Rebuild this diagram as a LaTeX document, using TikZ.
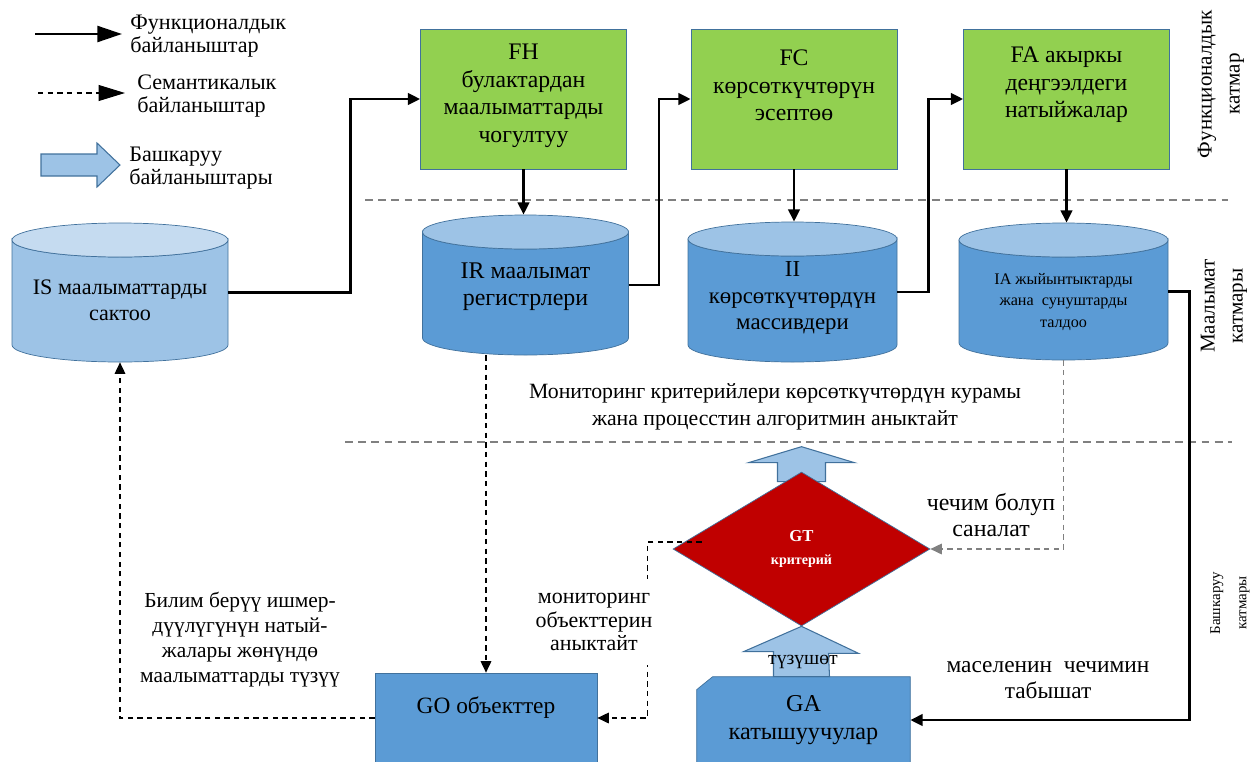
\documentclass[tikz,border=0pt]{standalone}
\usepackage{fontspec}
\setmainfont{Liberation Serif}
\usepackage{tikz}
\usetikzlibrary{arrows.meta,shapes.geometric,backgrounds}
\definecolor{fgreen}{HTML}{92D050}
\definecolor{midblue}{HTML}{5B9BD5}
\definecolor{paleblue}{HTML}{9DC3E6}
\definecolor{palelid}{HTML}{C5DBF0}
\definecolor{edgeblue}{HTML}{41719C}
\definecolor{gtred}{HTML}{C00000}
\tikzstyle{fbox}=[draw=edgeblue, fill=fgreen, minimum width=4.12cm, minimum height=2.8cm, inner sep=0pt]
\tikzstyle{gbox}=[draw=edgeblue, fill=midblue, inner sep=0pt]
\tikzstyle{txt}=[align=center, inner sep=0pt, font=\fontsize{12.5}{15}\selectfont]
\tikzstyle{func}=[draw, line width=1.5pt, -{Triangle[length=7pt,width=6.5pt]}]
\tikzstyle{sem}=[draw, line width=0.8pt, dash pattern=on 3pt off 2.5pt, -{Triangle[length=6.5pt,width=6pt]}]
\tikzstyle{barrow}=[draw=edgeblue, fill=paleblue, line width=0.6pt]
\tikzstyle{layer}=[align=center, rotate=90, inner sep=0pt, font=\fontsize{12}{16}\selectfont]
\tikzstyle{sepline}=[draw=gray, line width=1pt, dash pattern=on 4.5pt off 3pt]
\newcommand{\dbcyl}[6]{%
  \path[draw=edgeblue, fill=#5] (#1-#4,#2+17) -- (#1-#4,#3-17)
    arc[start angle=180, end angle=0, x radius=#4, y radius=17] -- (#1+#4,#2+17)
    arc[start angle=0, end angle=180, x radius=#4, y radius=17] -- cycle;
  \path[draw=edgeblue, fill=#6] (#1,#2+17) ellipse[x radius=#4, y radius=17];
}
\begin{document}
\begin{tikzpicture}[x=0.02cm, y=-0.02cm]
    \useasboundingbox (0,0) rectangle (1250,761);
    \coordinate (lf) at (35,34);
    \coordinate (ls) at (38,93);
    \node[txt, anchor=west, align=left, font=\fontsize{12.6}{13.2}\selectfont] (legf) at (130,36.5) {Функционалдык\\байланыштар};
    \node[txt, anchor=west, align=left, font=\fontsize{12.6}{13.2}\selectfont] (legs) at (137,96) {Семантикалык\\байланыштар};
    \node[txt, anchor=west, align=left, font=\fontsize{12.6}{13.2}\selectfont] (legc) at (129,168.5) {Башкаруу\\байланыштары};
    \draw[line width=1.6pt, -{Triangle[length=14pt,width=9pt]}] (lf) -- ++(87,0);
    \draw[line width=0.8pt, dash pattern=on 3pt off 2.5pt, -{Triangle[length=15pt,width=9pt]}] (ls) -- ++(87,0);
    \path[barrow] (41,154) -- (97,154) -- (97,143) -- (120,165) -- (97,187) -- (97,176) -- (41,176) -- cycle;
    \path[sepline] (365,200) -- (1228,200);
    \path[sepline] (345,442) -- (1232,442);
    \foreach \name/\pos/\dy/\txt in {FH/{(523.5,99)}/15/{FH\\булактардан\\маалыматтарды\\чогултуу}, FC/{(794,99)}/21/{FC\\көрсөткүчтөрүн\\эсептөө}, FA/{(1066.5,99)}/18/{FA акыркы\\деңгээлдеги\\натыйжалар}}
        \node[fbox, label={[txt, anchor=north, font=\fontsize{13.5}{15.7}\selectfont, shift={(0,\dy)}]north:\txt}] (\name) at \pos {};
    \foreach \name/\cx/\ytop/\ybot/\rx/\body/\lid/\dy/\fs/\ls/\txt in {IS/120/223/362/108/paleblue/palelid/7.5/12.6/15/{IS маалыматтарды\\сактоо}, IR/525.5/215/355/103/midblue/paleblue/2/13.6/15.3/{IR маалымат\\регистрлери}, II/792.5/222/362/104.5/midblue/paleblue/6/13/15/{II\\көрсөткүчтөрдүн\\массивдери}, IA/1063.5/223/360/104.5/midblue/paleblue/10.5/9.2/12.5/{IA жыйынтыктарды\\жана\ \ сунуштарды\\талдоо}}
    {
        \dbcyl{\cx}{\ytop}{\ybot}{\rx}{\body}{\lid}
        \node[minimum width=2*\rx*0.02cm, minimum height=(\ybot-\ytop)*0.02cm, inner sep=0pt, label={[txt, anchor=center, font=\fontsize{\fs}{\ls}\selectfont, shift={(0,\dy)}]center:\txt}] (\name) at (\cx,{(\ytop+\ybot)/2}) {};
    }
    \node[gbox, minimum width=4.44cm, minimum height=1.8cm, label={[txt, anchor=center, font=\fontsize{13.3}{15}\selectfont, shift={(0,-10)}]center:GO объекттер}] (GO) at (486,718) {};
    \node[txt, minimum width=4.26cm, minimum height=1.72cm, font=\fontsize{13.8}{16}\selectfont] (GA) at (803.5,720) {GA\\катышуучулар};
    \node[diamond, draw=edgeblue, fill=gtred, minimum width=5.14cm, minimum height=3.08cm, inner sep=0pt, text=white, align=center, font=\bfseries\fontsize{9.5}{13}\selectfont] (GT) at (801.5,549) {GT\\\fontsize{8}{13}\selectfont критерий};
    \begin{scope}[on background layer]
        \path[gbox] (GA.south west) -- ([shift={(0,13)}]GA.north west) -- ([shift={(16,0)}]GA.north west) -- (GA.north east) -- (GA.south east) -- cycle;
        \path[barrow] ([shift={(-24,10)}]GT.north) -- ++(0,-19) -- ++(-29,0) -- ++(53,-16) -- ++(53,16) -- ++(-29,0) -- ++(0,19) -- cycle;
        \path[barrow] (GT.south) -- ++(57,27) -- ++(-30,0) -- ([shift={(26,0)}]GA.north) -- ([shift={(-30,0)}]GA.north) -- ++(0,-25) -- ++(-30,0) -- cycle;
    \end{scope}
    \path[func] (IS.east) -- ++(122,0) |- (FH.west);
    \path[func] (IR.east) -- ++(30,0) |- (FC.west);
    \path[func] (II.east) -- ++(31,0) |- (FA.west);
    \path[func] (IA.east) -- ++(21,0) |- (GA.east);
    \foreach \src/\dst in {FH/IR, FC/II, FA/IA}
        \path[func] (\src.south) -- (\src.south |- \dst.north);
    \path[sem] (GO.north |- IR.south) -- (GO.north);
    \path[sem, draw=gray] (IA.south) |- (GT.east);
    \path[sem] ([shift={(29,-7)}]GT.west) -- ++(-54,0) |- (GO.east);
    \path[sem] (GO.west) -| (IS.south);
    \node[txt, font=\fontsize{12.4}{15.3}\selectfont] (crit) at (775,407) {Мониторинг критерийлери көрсөткүчтөрдүн курамы\\жана процесстин алгоритмин аныктайт};
    \node[txt, font=\fontsize{13.6}{15}\selectfont] (decis) at (991,515) {чечим болуп\\саналат};
    \node[txt, fill=white, inner xsep=3pt, inner ysep=8pt, font=\fontsize{12.5}{13.4}\selectfont] (objs) at (594,622) {мониторинг\\объекттерин\\аныктайт};
    \node[txt, font=\fontsize{12.2}{14.2}\selectfont] (repd) at (240,640) {Билим берүү ишмер-\\дүүлүгүнүн натый-\\жалары жөнүндө\\маалыматтарды түзүү};
    \node[txt, font=\fontsize{13.3}{15}\selectfont] (solve) at (1048,680) {маселенин\ \ чечимин\\табышат};
    \node[txt, font=\fontsize{11.2}{13}\selectfont] (tuz) at (803,662) {түзүшөт};
    \node[layer] (Lfun) at (1221,84) {Функционалдык\\катмар};
    \node[layer] (Linf) at (1224,306) {Маалымат\\катмары};
    \node[layer, font=\fontsize{8.5}{15}\selectfont] (Lctl) at (1230,603) {Башкаруу\\катмары};
\end{tikzpicture}
\end{document}
